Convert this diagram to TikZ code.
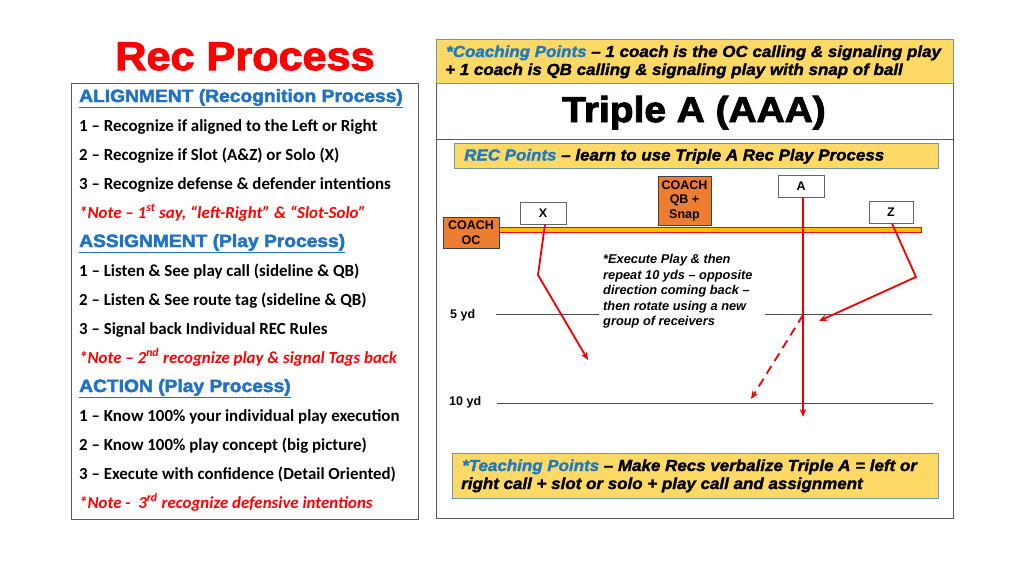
\documentclass[tikz,border=0pt]{standalone}
\usepackage{fontspec}
\setmainfont{Carlito}
\newfontfamily\blk{Liberation Sans Bold}[FakeBold=2.6,FakeStretch=1.08]
\newfontfamily\blkit{Liberation Sans Bold Italic}[FakeBold=1.8,FakeStretch=1.06]
\newfontfamily\arb{Liberation Sans Bold}
\newfontfamily\arbi{Liberation Sans Bold Italic}
\usetikzlibrary{arrows.meta}
\definecolor{titlered}{HTML}{FF0000}
\definecolor{headblue}{HTML}{1F72C6}
\definecolor{notered}{HTML}{FF0000}
\definecolor{gold}{HTML}{FFD966}
\definecolor{tealedge}{HTML}{6C9BA0}
\definecolor{coachorange}{HTML}{ED7D31}
\definecolor{losfill}{HTML}{FFC000}
\definecolor{routered}{HTML}{F20000}
\definecolor{cpblue}{HTML}{1F7BC0}
\definecolor{framegray}{HTML}{5A5A5A}
\begin{document}
\begin{tikzpicture}[x=1pt,y=-1pt,
  body/.style={anchor=base west,inner sep=0pt,font=\fontsize{16.9}{17}\selectfont\bfseries},
  note/.style={anchor=base west,inner sep=0pt,text=notered,font=\fontsize{16.9}{17}\selectfont\bfseries\itshape},
  head/.style={anchor=base west,inner sep=0pt,text=headblue,font=\blk\fontsize{17.8}{18}\selectfont},
  yellowbox/.style={draw=tealedge,fill=gold,line width=1pt},
  boxtext/.style={anchor=base west,inner sep=0pt,font=\blkit\fontsize{16}{16}\selectfont},
  coachbox/.style={draw=black!75,fill=coachorange,line width=0.8pt,inner sep=0pt,align=center,font=\arb\fontsize{12.5}{14.5}\selectfont},
  playerbox/.style={draw=black!60,fill=white,line width=0.8pt,inner sep=0pt,minimum width=46pt,minimum height=22pt,font=\arb\fontsize{12.5}{13}\selectfont},
  route/.style={draw=routered,line width=1.8pt,-{Stealth[length=8pt,width=6.5pt]}},
  yardline/.style={draw=black!70,line width=0.9pt},
  small/.style={anchor=base west,inner sep=0pt,font=\arb\fontsize{12.5}{13}\selectfont},
  exec/.style={anchor=base west,inner sep=0pt,font=\arbi\fontsize{12.8}{13}\selectfont}
]
\useasboundingbox[fill=white] (0,0) rectangle (1024,576);

% ---------- left column ----------
\node[anchor=base,inner sep=0pt,text=titlered,font=\blk\fontsize{40}{40}\selectfont] (title) at (245,70) {Rec Process};
\draw[draw=framegray,line width=1pt] (71,83) rectangle (418,519);

\node[head] (h1) at (79,102) {\underline{ALIGNMENT (Recognition Process)}};
\node[body] (l1) at (79,131) {1 – Recognize if aligned to the Left or Right};
\node[body] (l2) at (79,160) {2 – Recognize if Slot (A\&Z) or Solo (X)};
\node[body] (l3) at (79,189) {3 – Recognize defense \& defender intentions};
\node[note] (n1) at (79,218) {*Note – 1\textsuperscript{st} say, “left-Right” \& “Slot-Solo”};
\node[head] (h2) at (79,247) {\underline{ASSIGNMENT (Play Process)}};
\node[body] (l4) at (79,276) {1 – Listen \& See play call (sideline \& QB)};
\node[body] (l5) at (79,305) {2 – Listen \& See route tag (sideline \& QB)};
\node[body] (l6) at (79,334) {3 – Signal back Individual REC Rules};
\node[note] (n2) at (79,363) {*Note – 2\textsuperscript{nd} recognize play \& signal Tags back};
\node[head] (h3) at (79,392) {\underline{ACTION (Play Process)}};
\node[body] (l7) at (79,421) {1 – Know 100\% your individual play execution};
\node[body] (l8) at (79,450) {2 – Know 100\% play concept (big picture)};
\node[body] (l9) at (79,479) {3 – Execute with confidence (Detail Oriented)};
\node[note] (n3) at (79,508) {*Note -\ \ 3\textsuperscript{rd} recognize defensive intentions};

% ---------- right column ----------
\draw[draw=framegray,line width=1pt] (436,39) rectangle (953,518);
\draw[yellowbox] (436,39) rectangle (953,83);
\draw[draw=framegray,line width=1pt] (436,139) -- (953,139);
\node[boxtext] (cp1) at (446,57) {\textcolor{cpblue}{*Coaching Points} – 1 coach is the OC calling \& signaling play};
\node[boxtext] (cp2) at (445,75) {+ 1 coach is QB calling \& signaling play with snap of ball};

\node[anchor=base,inner sep=0pt,font=\blk\fontsize{36}{36}\selectfont] (triple) at (694,122) {Triple A (AAA)};

\draw[yellowbox] (454,143) rectangle (938,168);
\node[boxtext] (rec) at (464,160.5) {\textcolor{cpblue}{REC Points} – learn to use Triple A Rec Play Process};

\draw[yellowbox] (452,453) rectangle (938,498);
\node[boxtext] (tp1) at (462,471) {\textcolor{cpblue}{*Teaching Points} – Make Recs verbalize Triple A = left or};
\node[boxtext] (tp2) at (461,489) {right call + slot or solo + play call and assignment};

% ---------- field ----------
\draw[yardline] (496,314) -- (599,314);
\draw[yardline] (765,314) -- (932,314);
\draw[yardline] (497,403) -- (933,403);
\node[small] (y5) at (450,318.5) {5 yd};
\node[small] (y10) at (449,405.5) {10 yd};

\draw[draw=red,fill=losfill,line width=0.8pt] (499,227.5) rectangle (921,232);

\node[coachbox,minimum width=56pt,minimum height=31pt] (oc) at (471,232.5) {COACH\\OC};
\node[coachbox,minimum width=53pt,minimum height=49pt] (qb) at (684.5,200.5) {COACH\\QB +\\Snap};
\node[playerbox] (X) at (543,213) {X};
\node[playerbox] (A) at (801,186) {A};
\node[playerbox,minimum width=44pt] (Z) at (891,212) {Z};

\node[exec] (e1) at (603,263.5) {*Execute Play \& then};
\node[exec] (e2) at (603,279) {repeat 10 yds – opposite};
\node[exec] (e3) at (603,294.5) {direction coming back –};
\node[exec] (e4) at (603,310) {then rotate using a new};
\node[exec] (e5) at (603,325.5) {group of receivers};

\coordinate (xb) at (538,275);
\coordinate (xe) at (588,360);
\coordinate (ae) at (803,417);
\coordinate (zb) at (916,277);
\coordinate (ze) at (819,321);
\coordinate (ds) at (803,315);
\coordinate (de) at (751,399);

\draw[route] ([xshift=2pt]X.south) -- (xb) -- (xe);
\draw[route] ([xshift=2pt]A.south) -- (ae);
\draw[route] ([xshift=1pt]Z.south) -- (zb) -- (ze);
\draw[route,dash pattern=on 9pt off 6pt] (ds) -- (de);
\end{tikzpicture}
\end{document}
